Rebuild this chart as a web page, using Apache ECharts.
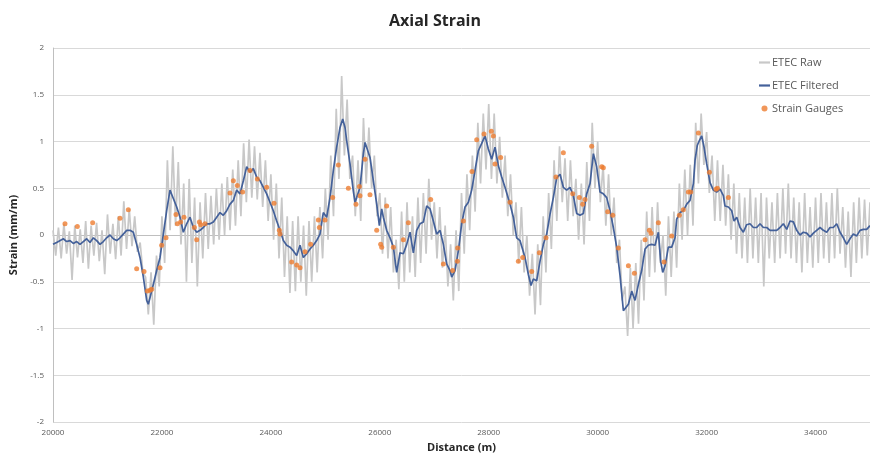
<!DOCTYPE html>
<html><head><meta charset="utf-8">
<script src="https://cdn.jsdelivr.net/npm/echarts@6/dist/echarts.min.js"></script>
<style>html,body{margin:0;padding:0;background:#fff}#c{width:870px;height:453px}</style>
</head><body><div id="c"></div>
<script>
const chartTitle = 'Axial Strain';
const xName = 'Distance (m)';
const yName = 'Strain (mm/m)';
const seriesNames = ['ETEC Raw', 'ETEC Filtered', 'Strain Gauges'];

// Raw ETEC readings, one every 50 m starting at 20000 m
const rawStart = 20000, rawStep = 50;
const rawValues = [
0.05,-0.22, 0.08,-0.25, 0.12,-0.20, 0.04,-0.48, 0.10,-0.24, 0.06,-0.30, 0.15,-0.36, 0.10,-0.22, 0.13,-0.28, 0.05,-0.42,
0.22,-0.20, 0.12,-0.26, 0.20,-0.22, 0.36,-0.15, 0.28,-0.12, 0.20,-0.18, -0.08,-0.40, -0.45,-0.85, -0.40,-0.96, -0.22,-0.55,
0.20,-0.30, 0.80,0.05, 0.95,0.10, 0.78,-0.10, 0.55,-0.50, 0.60,-0.30, 0.40,-0.55, 0.35,-0.25, 0.45,-0.15, 0.42,-0.10,
0.50,-0.05, 0.55,0.00, 0.62,0.05, 0.70,0.10, 0.80,0.20, 0.98,0.35, 1.02,0.40, 0.95,0.38, 0.88,0.30, 0.80,0.15,
0.65,-0.05, 0.55,-0.25, 0.40,-0.45, 0.20,-0.62, 0.15,-0.60, 0.20,-0.50, 0.10,-0.65, 0.15,-0.50, 0.20,-0.40, 0.30,-0.25,
0.50,-0.05, 0.85,0.20, 1.35,0.60, 1.70,0.85, 1.45,0.60, 0.85,0.20, 0.80,0.15, 1.25,0.55, 1.15,0.50, 0.85,0.20,
0.45,-0.20, 0.40,-0.25, 0.30,-0.40, -0.05,-0.58, 0.25,-0.50, 0.35,-0.40, 0.20,-0.45, 0.40,-0.30, 0.45,-0.20, 0.60,-0.05,
0.35,-0.25, 0.30,-0.35, 0.10,-0.55, -0.10,-0.70, 0.05,-0.60, 0.45,-0.20, 0.65,0.05, 0.85,0.25, 1.20,0.55, 1.30,0.70,
1.40,0.60, 1.30,0.55, 1.05,0.40, 0.85,0.20, 0.65,0.00, 0.35,-0.30, 0.30,-0.40, 0.00,-0.65, -0.20,-0.85, -0.10,-0.75,
0.20,-0.40, 0.45,-0.15, 0.80,0.15, 0.95,0.35, 0.82,0.15, 0.80,0.20, 0.60,-0.05, 0.55,-0.10, 0.78,0.15, 1.20,0.50,
1.00,0.35, 0.75,0.10, 0.65,0.00, 0.40,-0.30, -0.05,-0.70, -0.55,-1.08, -0.35,-1.00, -0.30,-0.95, -0.05,-0.70, 0.25,-0.45,
0.30,-0.40, 0.35,-0.30, 0.00,-0.65, 0.20,-0.45, 0.25,-0.35, 0.55,-0.05, 0.70,0.00, 0.75,0.10, 1.20,0.55, 1.30,0.75,
1.10,0.45, 0.85,0.15, 0.80,0.15, 0.75,0.10, 0.65,-0.05, 0.55,-0.20, 0.45,-0.25, 0.40,-0.30, 0.50,-0.25, 0.40,-0.30,
0.45,-0.55, 0.40,-0.25, 0.35,-0.30, 0.45,-0.25, 0.50,-0.20, 0.55,-0.25, 0.40,-0.30, 0.35,-0.40, 0.45,-0.30, 0.30,-0.35,
0.40,-0.30, 0.45,-0.25, 0.35,-0.30, 0.45,-0.25, 0.50,-0.20, 0.30,-0.35, 0.25,-0.45, 0.35,-0.30, 0.40,-0.25, 0.38,-0.22,
0.35
];

// Filtered ETEC curve: [distance (m), strain]
const filtered = [
[20000,-0.10],[20067,-0.08],[20190,-0.04],[20251,-0.07],[20312,-0.06],[20373,-0.09],[20435,-0.07],[20496,-0.10],[20557,-0.07],[20618,-0.04],
[20679,-0.08],[20741,-0.03],[20802,-0.06],[20863,-0.10],[20924,-0.07],[20985,-0.03],[21047,0.00],[21108,-0.04],[21169,-0.06],[21230,-0.03],
[21291,0.01],[21353,0.05],[21414,0.05],[21475,0.03],[21536,-0.10],[21597,-0.24],[21659,-0.45],[21720,-0.70],[21750,-0.74],[21781,-0.67],
[21842,-0.53],[21903,-0.38],[21965,-0.24],[22026,0.01],[22087,0.26],[22148,0.48],[22209,0.39],[22271,0.30],[22332,0.19],[22393,0.03],
[22454,0.12],[22515,0.19],[22577,0.08],[22638,0.03],[22699,0.05],[22760,0.08],[22821,0.12],[22883,0.12],[22944,0.14],[23005,0.19],
[23066,0.24],[23127,0.21],[23189,0.26],[23250,0.33],[23311,0.37],[23372,0.48],[23433,0.44],[23495,0.58],[23556,0.73],[23617,0.67],
[23678,0.71],[23739,0.62],[23801,0.58],[23862,0.51],[23923,0.44],[23984,0.35],[24045,0.26],[24107,0.15],[24168,0.05],[24229,-0.06],
[24290,-0.11],[24351,-0.13],[24413,-0.17],[24474,-0.22],[24535,-0.11],[24596,-0.24],[24657,-0.20],[24719,-0.15],[24780,-0.11],[24841,-0.06],
[24902,0.01],[24963,0.24],[25025,0.19],[25086,0.40],[25147,0.69],[25208,0.94],[25270,1.15],[25319,1.24],[25361,1.15],[25392,1.01],
[25453,0.76],[25514,0.47],[25545,0.35],[25576,0.40],[25637,0.51],[25698,0.87],[25729,0.99],[25759,0.98],[25820,0.83],[25882,0.58],
[25943,0.33],[25992,0.10],[26035,0.28],[26065,0.19],[26126,0.05],[26188,-0.03],[26249,-0.13],[26310,-0.40],[26371,-0.19],[26432,-0.20],
[26494,-0.10],[26555,0.03],[26616,-0.19],[26677,0.05],[26738,0.12],[26800,0.14],[26861,0.31],[26922,0.28],[26983,0.15],[27044,0.01],
[27106,0.05],[27167,-0.10],[27228,-0.31],[27289,-0.38],[27320,-0.45],[27381,-0.38],[27442,-0.17],[27503,0.12],[27565,0.30],[27626,0.35],
[27687,0.48],[27748,0.69],[27809,0.90],[27871,0.98],[27932,1.06],[27993,0.92],[28054,0.81],[28115,0.94],[28177,0.74],[28238,0.62],
[28299,0.51],[28391,0.33],[28452,0.19],[28513,-0.03],[28574,-0.06],[28605,-0.04],[28666,-0.24],[28727,-0.42],[28776,-0.54],[28819,-0.47],
[28880,-0.49],[28942,-0.28],[29003,-0.10],[29064,0.01],[29125,0.22],[29186,0.40],[29248,0.61],[29309,0.65],[29370,0.51],[29431,0.48],
[29492,0.51],[29554,0.42],[29615,0.23],[29676,0.21],[29737,0.23],[29798,0.44],[29860,0.55],[29921,0.87],[29982,0.73],[30043,0.46],
[30104,0.44],[30166,0.40],[30227,0.26],[30288,0.08],[30349,-0.13],[30410,-0.43],[30472,-0.81],[30502,-0.83],[30564,-0.74],[30625,-0.60],
[30686,-0.70],[30747,-0.53],[30808,-0.38],[30870,-0.15],[30931,-0.11],[30992,-0.10],[31053,-0.11],[31114,0.03],[31157,-0.28],[31194,-0.40],
[31237,-0.33],[31298,-0.13],[31359,-0.13],[31420,-0.03],[31451,0.17],[31512,0.24],[31573,0.26],[31635,0.33],[31696,0.37],[31757,0.55],
[31788,0.80],[31830,0.96],[31867,1.01],[31910,1.06],[31953,0.94],[32002,0.76],[32063,0.56],[32124,0.48],[32185,0.46],[32247,0.49],
[32308,0.42],[32338,0.31],[32400,0.30],[32461,0.26],[32504,0.15],[32553,0.19],[32614,0.08],[32675,0.03],[32736,0.11],[32797,0.12],
[32859,0.08],[32920,0.08],[32981,0.12],[33042,0.08],[33103,0.08],[33165,0.05],[33226,0.05],[33287,0.05],[33348,0.08],[33409,0.12],
[33471,0.06],[33532,0.15],[33593,0.14],[33654,0.05],[33715,0.00],[33777,0.03],[33838,0.02],[33899,-0.02],[33960,0.02],[34021,0.05],
[34083,0.08],[34144,0.05],[34205,0.03],[34266,0.08],[34327,0.08],[34389,0.12],[34450,0.03],[34511,-0.03],[34572,-0.10],[34633,-0.04],
[34694,0.01],[34756,-0.01],[34817,0.05],[34878,0.06],[34939,0.06],[35000,0.10]
];

// Strain gauge readings: [distance (m), strain]
const gauges = [
[20220,0.12],[20447,0.09],[20728,0.13],[21230,0.18],[21383,0.27],[21536,-0.36],[21671,-0.39],[21732,-0.60],[21781,-0.59],[21812,-0.58],
[21965,-0.35],[21995,-0.11],[22075,-0.03],[22258,0.22],[22283,0.12],[22344,0.14],[22405,0.19],[22595,0.08],[22638,-0.05],[22687,0.14],
[22711,0.11],[22791,0.12],[23250,0.45],[23311,0.58],[23384,0.53],[23482,0.46],[23617,0.69],[23752,0.60],[23923,0.51],[24058,0.34],
[24156,0.05],[24168,0.01],[24382,-0.29],[24474,-0.32],[24535,-0.35],[24627,-0.18],[24731,-0.10],[24872,0.16],[24890,0.08],[24994,0.16],
[25135,0.40],[25239,0.75],[25423,0.50],[25563,0.33],[25625,0.52],[25637,0.42],[25729,0.81],[25820,0.43],[25943,0.05],[26016,-0.10],
[26035,-0.13],[26126,0.31],[26249,-0.13],[26432,-0.05],[26524,0.13],[26934,0.38],[27167,-0.31],[27338,-0.38],[27424,-0.28],[27430,-0.14],
[27534,0.15],[27693,0.68],[27779,1.02],[27913,1.08],[28048,1.11],[28085,1.06],[28115,0.76],[28219,0.83],[28391,0.35],[28544,-0.28],
[28623,-0.24],[28789,-0.39],[28929,-0.19],[29052,-0.03],[29235,0.62],[29370,0.88],[29541,0.44],[29664,0.40],[29725,0.33],[29768,0.38],
[29890,0.95],[30074,0.73],[30104,0.72],[30184,0.25],[30276,0.21],[30380,-0.14],[30564,-0.33],[30674,-0.41],[30870,-0.05],[30949,0.05],
[30980,0.02],[31114,0.13],[31218,-0.29],[31359,-0.01],[31500,0.21],[31573,0.27],[31665,0.46],[31708,0.46],[31849,1.09],[32051,0.67],
[32173,0.49],[32198,0.50],[32400,0.40]
];

const xMin = 20000, xMax = 35000, xInterval = 2000;
const yMin = -2, yMax = 2, yInterval = 0.5;

const rawData = rawValues.map((v, i) => [rawStart + i * rawStep, v]);

const FONT = '"Open Sans", "Liberation Sans", sans-serif';
const LINE_ICON = 'path://M0,0H10V2H0Z';
const chart = echarts.init(document.getElementById('c'), null, {renderer: 'canvas'});
chart.setOption({
  animation: false,
  backgroundColor: '#ffffff',
  title: {
    text: chartTitle, left: 'center', top: 8,
    textStyle: {fontFamily: FONT, fontSize: 16, fontWeight: 'bold', color: '#262626'}
  },
  legend: {
    orient: 'vertical', left: 754, top: 52, itemGap: 12,
    itemWidth: 11, itemHeight: 6, symbolKeepAspect: true,
    textStyle: {fontFamily: FONT, fontSize: 11, color: '#595959', padding: [0, 0, 0, -3]},
    data: [
      {name: seriesNames[0], icon: LINE_ICON},
      {name: seriesNames[1], icon: LINE_ICON},
      {name: seriesNames[2], icon: 'circle'}
    ]
  },
  grid: {left: 53, right: 0, top: 48, bottom: 31, containLabel: false, outerBoundsMode: 'none'},
  xAxis: {
    type: 'value', min: xMin, max: xMax, interval: xInterval,
    name: xName, nameLocation: 'middle', nameGap: 18,
    nameTextStyle: {fontFamily: FONT, fontSize: 11, fontWeight: 'bold', color: '#262626'},
    axisLine: {show: true, lineStyle: {color: '#bfbfbf', width: 1}},
    axisTick: {show: false},
    splitLine: {show: false},
    axisLabel: {fontFamily: FONT, fontSize: 8, color: '#595959', margin: 7, showMaxLabel: false,
      formatter: v => String(v)}
  },
  yAxis: {
    type: 'value', min: yMin, max: yMax, interval: yInterval,
    name: yName, nameLocation: 'middle', nameGap: 30, nameRotate: 90,
    nameTextStyle: {fontFamily: FONT, fontSize: 11, fontWeight: 'bold', color: '#262626'},
    axisLine: {show: true, lineStyle: {color: '#bfbfbf', width: 1}},
    axisTick: {show: false},
    splitLine: {show: true, lineStyle: {color: '#d9d9d9', width: 1}},
    axisLabel: {fontFamily: FONT, fontSize: 8, color: '#595959', margin: 9}
  },
  series: [
    {
      name: seriesNames[0], type: 'line', data: rawData, showSymbol: false, symbol: 'none',
      itemStyle: {color: '#c8c8c8'},
      lineStyle: {color: '#c8c8c8', width: 1.7}, z: 1
    },
    {
      name: seriesNames[1], type: 'line', data: filtered, showSymbol: false, symbol: 'none',
      itemStyle: {color: '#44619a'},
      lineStyle: {color: '#44619a', width: 1.7}, z: 2
    },
    {
      name: seriesNames[2], type: 'scatter', data: gauges, symbol: 'circle', symbolSize: 5,
      itemStyle: {color: '#ed7d31'}, z: 3
    }
  ]
});
</script>
</body></html>
